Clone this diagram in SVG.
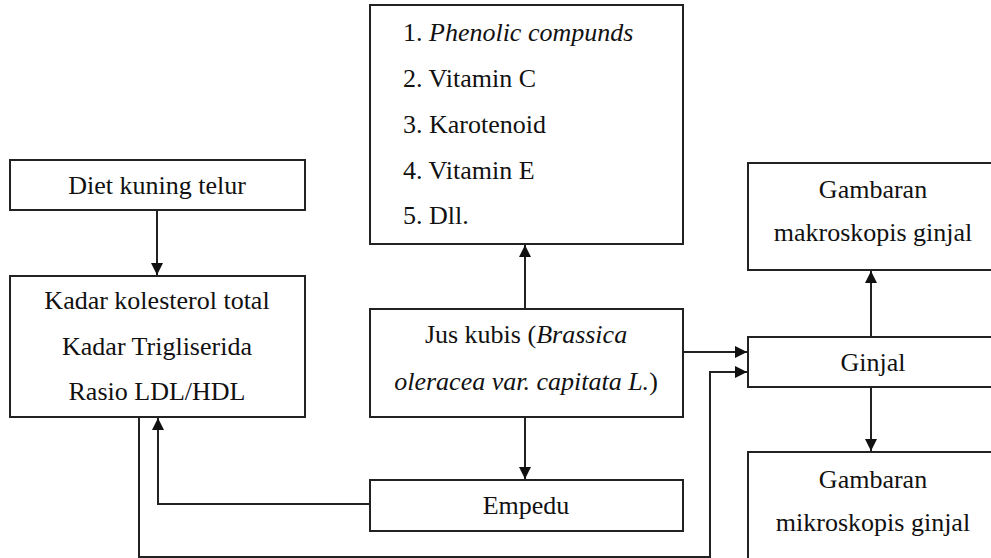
<svg xmlns="http://www.w3.org/2000/svg" width="991" height="558" viewBox="0 0 991 558">
<defs>
<style>
.box{fill:#fff;stroke:#222;stroke-width:2}
.t{font-size:26px;fill:#111}
.m{text-anchor:middle}
.i{font-style:italic}
.c{fill:none;stroke:#222;stroke-width:2}
</style>
<marker id="ah" viewBox="0 0 12 12" refX="12" refY="6" markerWidth="12" markerHeight="12" markerUnits="userSpaceOnUse" orient="auto">
<path d="M0,0 L12,6 L0,12 z" fill="#111"/>
</marker>
</defs>
<rect width="991" height="558" fill="#fff"/>
<g id="connectors">
<path class="c" d="M157,210 V275" marker-end="url(#ah)"/>
<path class="c" d="M525,309 V245" marker-end="url(#ah)"/>
<path class="c" d="M525,417 V479" marker-end="url(#ah)"/>
<path class="c" d="M370,504 H158 V418" marker-end="url(#ah)"/>
<path class="c" d="M139,417 V557 H710 V372 H747" marker-end="url(#ah)"/>
<path class="c" d="M683,352 H747" marker-end="url(#ah)"/>
<path class="c" d="M871,337 V271" marker-end="url(#ah)"/>
<path class="c" d="M871,387 V451" marker-end="url(#ah)"/>
</g>
<g font-family="Liberation Serif">
<g id="senyawa">
<rect class="box" x="370" y="5" width="313" height="239"/>
<text class="t" x="403" y="41" font-family="Liberation Serif">1. <tspan class="i">Phenolic compunds</tspan></text>
<text class="t" x="403" y="87" font-family="Liberation Serif">2. Vitamin C</text>
<text class="t" x="403" y="133" font-family="Liberation Serif">3. Karotenoid</text>
<text class="t" x="403" y="179" font-family="Liberation Serif">4. Vitamin E</text>
<text class="t" x="403" y="224" font-family="Liberation Serif">5. Dll.</text>
</g>
<g id="diet">
<rect class="box" x="10" y="160" width="295" height="50"/>
<text class="t m" x="157" y="194" font-family="Liberation Serif">Diet kuning telur</text>
</g>
<g id="kadar">
<rect class="box" x="10" y="276" width="295" height="141"/>
<text class="t m" x="157" y="309" font-family="Liberation Serif">Kadar kolesterol total</text>
<text class="t m" x="157" y="355" font-family="Liberation Serif">Kadar Trigliserida</text>
<text class="t m" x="157" y="400" font-family="Liberation Serif">Rasio LDL/HDL</text>
</g>
<g id="jus">
<rect class="box" x="370" y="309" width="313" height="108"/>
<text class="t m" x="526" y="343" font-family="Liberation Serif">Jus kubis (<tspan class="i">Brassica</tspan></text>
<text class="t m" x="526" y="390" font-family="Liberation Serif"><tspan class="i">oleracea var. capitata L.</tspan>)</text>
</g>
<g id="empedu">
<rect class="box" x="370" y="480" width="313" height="51"/>
<text class="t m" x="526" y="514" font-family="Liberation Serif">Empedu</text>
</g>
<g id="ginjal">
<rect class="box" x="748" y="337" width="260" height="50"/>
<text class="t m" x="873" y="371" font-family="Liberation Serif">Ginjal</text>
</g>
<g id="makro">
<rect class="box" x="748" y="163" width="260" height="107"/>
<text class="t m" x="873" y="198" font-family="Liberation Serif">Gambaran</text>
<text class="t m" x="873" y="241" font-family="Liberation Serif">makroskopis  ginjal</text>
</g>
<g id="mikro">
<rect class="box" x="748" y="452" width="260" height="120"/>
<text class="t m" x="873" y="488" font-family="Liberation Serif">Gambaran</text>
<text class="t m" x="873" y="531" font-family="Liberation Serif">mikroskopis  ginjal</text>
</g>
</g>
</svg>
